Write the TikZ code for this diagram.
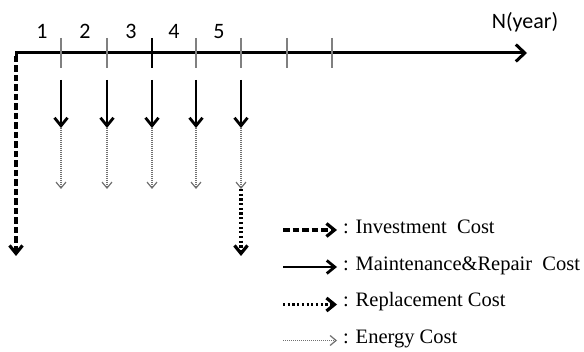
\documentclass[tikz,border=0pt]{standalone}
\usepackage{fontspec}
\setmainfont{Liberation Serif}
\newfontfamily\timesfont{Liberation Serif}
\newfontfamily\calfont{Carlito}
\usetikzlibrary{arrows.meta}
\definecolor{tickgray}{HTML}{808080}
\definecolor{enggray}{HTML}{707070}
\begin{document}
\begin{tikzpicture}[x=1pt,y=-1pt,
  axisline/.style={line width=3pt,-{Straight Barb[length=9pt,width=17pt]}},
  tickline/.style={line width=1.3pt,tickgray},
  investarrow/.style={line width=3.2pt,dash pattern=on 6.5pt off 3pt,-{Straight Barb[length=8pt,width=13pt]}},
  maintarrow/.style={line width=2.8pt,-{Straight Barb[length=8pt,width=13pt]}},
  replarrow/.style={line width=3.2pt,dash pattern=on 2.2pt off 2.5pt,-{Straight Barb[length=8pt,width=13pt]}},
  energyarrow/.style={line width=1.3pt,enggray,dash pattern=on 1pt off 1pt,-{Straight Barb[length=6pt,width=10pt,line width=1.2pt]}},
  yearlbl/.style={font=\calfont\fontsize{22}{26}\selectfont,anchor=base,inner sep=0pt},
  leglbl/.style={font=\timesfont\fontsize{20.5}{24}\selectfont,anchor=base west,inner sep=0pt}]
\useasboundingbox (0,0) rectangle (584,352);
\fill[white] (0,0) rectangle (584,352);
% axis
\coordinate (o) at (16,53);
\coordinate (axend) at (527,53);
\draw[line width=3pt,line join=miter] (16,62) -- (o) -- (40,53);
\draw[axisline] (o) -- (axend);
% ticks
\foreach \i/\x in {1/61,2/107,3/152,4/196,5/241,6/287,7/332}{
  \coordinate (ta\i) at (\x,38);
  \coordinate (tb\i) at (\x,68);
}
\foreach \i in {1,2,4,5,6,7}{\draw[tickline] (ta\i) -- (tb\i);}
\draw[tickline,black] (ta3) -- (tb3);
% year labels
\node[yearlbl] (y1) at (42,39) {1};
\node[yearlbl] (y2) at (85,39) {2};
\node[yearlbl] (y3) at (131,39) {3};
\node[yearlbl] (y4) at (174,39) {4};
\node[yearlbl] (y5) at (219,39) {5};
\node[yearlbl] (nyear) at (525,29) {N(year)};
% investment
\coordinate (inv) at (16,256);
\draw[investarrow] (16,56) -- (inv);
% maintenance and energy
\foreach \i/\x in {1/61,2/107,3/152,4/196,5/241}{
  \coordinate (ma\i) at (\x,80);
  \coordinate (mb\i) at (\x,128);
  \coordinate (eb\i) at (\x,189);
  \draw[maintarrow] (ma\i) -- (mb\i);
  \draw[energyarrow] (mb\i) -- (eb\i);
}
% replacement
\coordinate (rb) at (241,256);
\draw[replarrow] (eb5) -- (rb);
% legend
\node[leglbl] (l1) at (343,234) {: Investment\ \ Cost};
\node[leglbl] (l2) at (343,270.5) {: Maintenance\&Repair\ \ Cost};
\node[leglbl] (l3) at (343,307) {: Replacement Cost};
\node[leglbl] (l4) at (343,343.5) {: Energy Cost};
\coordinate (s1) at (283,230); \coordinate (e1) at (337,230);
\coordinate (s2) at (283,267); \coordinate (e2) at (337,267);
\coordinate (s3) at (283,304.5); \coordinate (e3) at (337,304.5);
\coordinate (s4) at (283,340.5); \coordinate (e4) at (337,340.5);
\draw[investarrow] (s1) -- (e1);
\draw[maintarrow] (s2) -- (e2);
\draw[replarrow] (s3) -- (e3);
\draw[energyarrow] (s4) -- (e4);
\end{tikzpicture}
\end{document}
